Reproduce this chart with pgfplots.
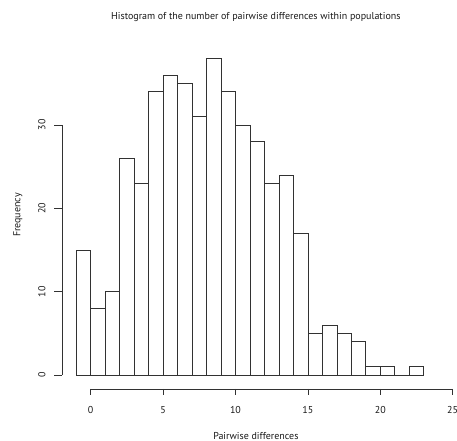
\documentclass[border=0pt]{standalone}
\usepackage{pgfplots}
\pgfplotsset{compat=1.18}
\usepackage{fontspec}
\setmainfont{PT Sans}
\definecolor{ink}{RGB}{50,50,50}
\definecolor{txt}{RGB}{25,25,25}

\begin{document}
\begin{tikzpicture}[font=\fontsize{10}{12}\selectfont]
\begin{axis}[
    x=14.48pt, y=8.333pt,
    xmin=-6.26, xmax=25.30,
    ymin=-7.92, ymax=45,
    hide axis,
    clip=false,
]
% histogram bars (breaks -1,0,...,23)
\addplot[ybar interval, fill=white, draw=ink, line width=0.6pt] coordinates {
    (-1,15) (0,8) (1,10) (2,26) (3,23) (4,34) (5,36) (6,35) (7,31) (8,38)
    (9,34) (10,30) (11,28) (12,23) (13,24) (14,17) (15,5) (16,6) (17,5)
    (18,4) (19,1) (20,1) (21,0) (22,1) (23,1)
};

% x axis (R style, offset below the bars)
\draw[ink, line width=0.6pt] (axis cs:0,-1.68) -- (axis cs:25,-1.68);
\pgfplotsinvokeforeach{0,5,10,15,20,25}{
    \draw[ink, line width=0.6pt] (axis cs:#1,-1.68) -- (axis cs:#1,-2.45);
    \node[txt] at (axis cs:#1,-4.2) {#1};
}
\node[txt] at (axis cs:11.41,-7.32) {Pairwise differences};

% y axis
\draw[ink, line width=0.6pt] (axis cs:-1.98,0) -- (axis cs:-1.98,30);
\pgfplotsinvokeforeach{0,10,20,30}{
    \draw[ink, line width=0.6pt] (axis cs:-1.98,#1) -- (axis cs:-2.54,#1);
    \node[txt, rotate=90] at (axis cs:-3.36,#1) {#1};
}
\node[txt, rotate=90] at (axis cs:-5.02,19.2) {Frequency};

% title
\node[txt] at (axis cs:11.41,42.96) {Histogram of the number of pairwise differences within populations};

\coordinate (bl) at (axis cs:-6.26,-7.92);
\coordinate (tr) at (axis cs:25.30,45);
\end{axis}
\pgfresetboundingbox
\path[use as bounding box] (bl) rectangle (tr);
\end{tikzpicture}
\end{document}
